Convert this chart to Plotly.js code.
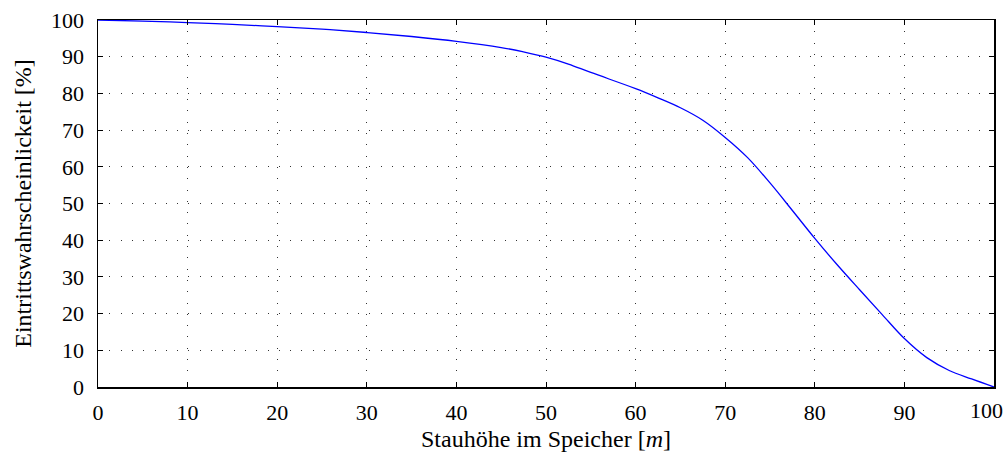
<!DOCTYPE html>
<html>
<head>
<meta charset="utf-8">
<script src="https://cdn.plot.ly/plotly-3.0.1.min.js"></script>
<style>html,body{margin:0;padding:0;background:#fff;}#chart{width:1007px;height:460px;}</style>
</head>
<body>
<div id="chart"></div>
<script>
const stauhoehe = [0, 5, 10, 15, 20, 25, 30, 35, 40, 45, 47.5, 50, 52.5, 55, 60, 62.5, 65, 67.5, 70, 72.5, 75, 77.5, 80, 82.5, 85, 87.5, 90, 92.5, 95, 97.5, 100];
const wahrscheinlichkeit = [100, 99.7, 99.3, 98.8, 98.2, 97.5, 96.6, 95.5, 94.2, 92.5, 91.3, 89.9, 88.0, 85.7, 81.3, 78.8, 76.1, 72.7, 68.0, 62.5, 55.6, 48.1, 40.5, 33.3, 26.5, 19.8, 13.2, 8.0, 4.5, 2.2, 0];
const xTicks = [0,10,20,30,40,50,60,70,80,90,100];
const yTicks = [0,10,20,30,40,50,60,70,80,90,100];

const fam = 'Liberation Serif';
const tickFont = {family: fam, size: 22, color: '#000'};
const lastX = xTicks[xTicks.length - 1];
const xTickText = xTicks.map(v => v === lastX ? '' : String(v));

const trace = {
  x: stauhoehe, y: wahrscheinlichkeit, type: 'scatter', mode: 'lines',
  line: {color: '#0000ff', width: 1.3, shape: 'spline', smoothing: 1},
  hoverinfo: 'skip'
};
const axisCommon = {
  showline: true, linecolor: '#000', linewidth: 1.5, mirror: 'ticks',
  ticks: 'inside', ticklen: 5, tickcolor: '#000', tickwidth: 1,
  showgrid: true, gridcolor: '#333', griddash: '1px,10.3px', gridwidth: 1,
  zeroline: false, tickfont: tickFont
};
const layout = {
  width: 1007, height: 460,
  margin: {l: 98, r: 13, t: 19.5, b: 72.5},
  paper_bgcolor: '#fff', plot_bgcolor: '#fff',
  showlegend: false,
  font: {family: fam, color: '#000'},
  xaxis: Object.assign({}, axisCommon, {
    range: [0, 100], tickvals: xTicks, ticktext: xTickText,
    ticklabelstandoff: 5,
    title: {text: 'Stauhöhe im Speicher [<i>m</i>]', font: {family: fam, size: 24, color: '#000'}, standoff: 6}
  }),
  yaxis: Object.assign({}, axisCommon, {
    range: [0, 100], tickvals: yTicks, ticktext: yTicks.map(String),
    ticklabelstandoff: 8,
    title: {text: 'Eintrittswahrscheinlickeit [%]', font: {family: fam, size: 24, color: '#000'}, standoff: 12}
  }),
  annotations: [{
    x: lastX, xref: 'x', y: 0, yref: 'paper', text: String(lastX),
    showarrow: false, xanchor: 'center', yanchor: 'middle',
    xshift: -8, yshift: -23, font: tickFont
  }]
};
Plotly.newPlot('chart', [trace], layout, {displayModeBar: false, staticPlot: true});
</script>
</body>
</html>
